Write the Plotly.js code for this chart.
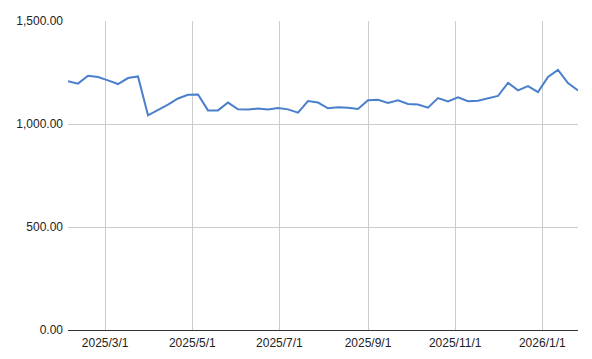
<!DOCTYPE html>
<html>
<head>
<meta charset="utf-8">
<script src="https://cdn.plot.ly/plotly-3.0.1.min.js"></script>
<style>html,body{margin:0;padding:0;background:#fff}#chart{width:592px;height:359px}</style>
</head>
<body>
<div id="chart"></div>
<script>
const dates = ["2025-02-03","2025-02-10","2025-02-17","2025-02-24","2025-03-03","2025-03-10","2025-03-17","2025-03-24","2025-03-31","2025-04-07","2025-04-14","2025-04-21","2025-04-28","2025-05-05","2025-05-12","2025-05-19","2025-05-26","2025-06-02","2025-06-09","2025-06-16","2025-06-23","2025-06-30","2025-07-07","2025-07-14","2025-07-21","2025-07-28","2025-08-04","2025-08-11","2025-08-18","2025-08-25","2025-09-01","2025-09-08","2025-09-15","2025-09-22","2025-09-29","2025-10-06","2025-10-13","2025-10-20","2025-10-27","2025-11-03","2025-11-10","2025-11-17","2025-11-24","2025-12-01","2025-12-08","2025-12-15","2025-12-22","2025-12-29","2026-01-05","2026-01-12","2026-01-19","2026-01-26"];
const values = [1208,1196,1234,1228,1212,1194,1223,1231,1042,1066,1094,1124,1142,1143,1066,1066,1104,1071,1070,1075,1070,1078,1071,1055,1111,1104,1076,1081,1079,1073,1115,1118,1102,1115,1097,1095,1079,1126,1110,1129,1111,1113,1126,1136,1200,1163,1184,1155,1228,1263,1199,1163];
const xTicks = ["2025-03-01","2025-05-01","2025-07-01","2025-09-01","2025-11-01","2026-01-01"];
const xTickText = ["2025/3/1","2025/5/1","2025/7/1","2025/9/1","2025/11/1","2026/1/1"];
const yTicks = [0,500,1000,1500];
const yTickText = ["0.00","500.00","1,000.00","1,500.00"];

Plotly.newPlot("chart", [{
  x: dates, y: values, type: "scatter", mode: "lines",
  line: {color: "#4a7fcc", width: 2},
  hoverinfo: "skip"
}], {
  width: 592, height: 359,
  margin: {l: 68, r: 14, t: 21, b: 28.5, pad: 0},
  paper_bgcolor: "#fff", plot_bgcolor: "#fff",
  showlegend: false,
  font: {family: "Liberation Sans, Arial, sans-serif", size: 12, color: "#222"},
  xaxis: {
    type: "date", range: [dates[0], dates[dates.length-1]],
    tickvals: xTicks, ticktext: xTickText,
    showgrid: true, gridcolor: "#cccccc", gridwidth: 1,
    zeroline: false, showline: false, ticks: "",
    ticklabelstandoff: 4,
    tickfont: {size: 12, color: "#222"}
  },
  yaxis: {
    range: [0, 1500], tickvals: yTicks, ticktext: yTickText,
    showgrid: true, gridcolor: "#cccccc", gridwidth: 1,
    zeroline: true, zerolinecolor: "#333333", zerolinewidth: 1,
    showline: false, ticks: "",
    ticklabelstandoff: 4,
    tickfont: {size: 12, color: "#222"}
  }
}, {displayModeBar: false, staticPlot: true});
</script>
</body>
</html>
